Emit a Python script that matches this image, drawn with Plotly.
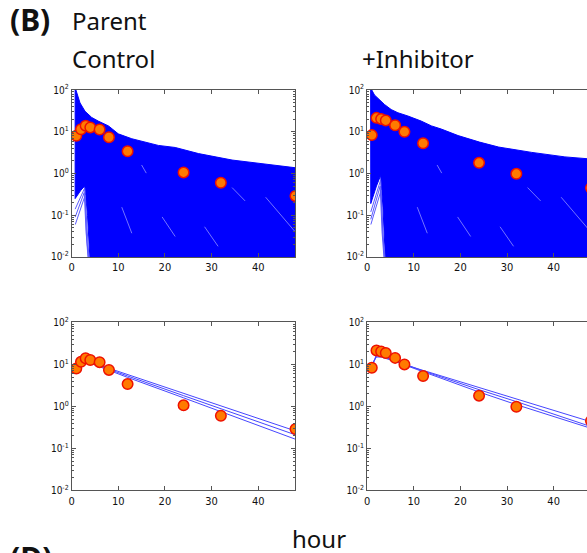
import plotly.graph_objects as go

# Sampling times (hour) and observed parent concentrations
hours = [1, 2, 3, 4, 6, 8, 12, 24, 32, 48]
control_obs = [8.0, 11.5, 14.0, 12.7, 11.3, 7.4, 3.4, 1.06, 0.60, 0.29]
inhib_obs = [8.3, 21.5, 20.3, 18.7, 14.3, 10.0, 5.3, 1.8, 0.98, 0.45]

# Upper edge of the simulated-curve band
control_band_t = [0.75, 0.92, 1.8, 2.86, 4.3, 5.7, 7.9, 9.3, 10.0, 12.9, 18.6, 22.2, 27.2, 34.4, 41.6, 48]
control_band_hi = [300, 100, 49, 31, 22, 18, 13.8, 10.0, 8.9, 6.8, 4.7, 4.2, 3.0, 2.1, 1.67, 1.35]
inhib_band_t = [0.75, 1.0, 1.57, 2.65, 3.72, 5.16, 6.6, 8.75, 11.6, 13.8, 15.9, 19.5, 24.1, 28.2, 35.3, 42.4, 48]
inhib_band_hi = [300, 100, 76, 58, 45, 34, 28.5, 23.8, 18, 13.8, 11.6, 8.1, 5.65, 4.3, 3.2, 2.5, 2.2]

# Lower edge of the band near the absorption phase (gap under the early curves)
control_gap_t = [4.2, 3.9, 3.4, 2.8, 2.0, 0.75]
control_gap_lo = [0.001, 0.01, 0.1, 0.5, 0.4, 0.25]
inhib_gap_t = [4.2, 3.9, 3.4, 2.9, 2.0, 0.78]
inhib_gap_lo = [0.001, 0.01, 0.15, 0.9, 0.5, 0.19]

# Individual low curves crossing the gap
control_low_t = [[0.75, 2.8, 3.3, 3.7], [0.75, 2.7, 3.1, 3.5], [0.78, 2.9, 3.2, 3.6]]
control_low_c = [[0.14, 0.45, 0.05, 0.01], [0.09, 0.35, 0.04, 0.01], [0.06, 0.3, 0.03, 0.01]]
inhib_low_t = [[0.78, 2.9, 3.3, 3.7], [0.78, 2.8, 3.2, 3.6], [0.8, 3.0, 3.4, 3.8]]
inhib_low_c = [[0.12, 0.7, 0.06, 0.01], [0.08, 0.5, 0.04, 0.01], [0.06, 0.4, 0.03, 0.01]]

# Sparse streaks inside the band
streak_t = [[10.75, 12.9], [19.4, 22.2], [28.5, 31.4], [41.6, 48.2], [34.4, 37.2], [15.0, 16.0]]
streak_c = [[0.156, 0.037], [0.091, 0.031], [0.053, 0.018], [0.27, 0.037], [0.46, 0.22], [1.6, 1.02]]

# Fitted profiles
fit_t = [1, 2, 3, 4, 6, 8, 12, 24, 32, 48]
control_fits = [
    [8.6, 11.6, 12.0, 11.4, 9.6, 8.1, 5.7, 2.05, 1.03, 0.26],
    [8.2, 11.0, 11.5, 11.0, 9.2, 7.6, 5.3, 1.8, 0.88, 0.21],
    [7.8, 10.6, 11.2, 10.7, 8.8, 7.2, 4.9, 1.6, 0.76, 0.165],
]
inhib_fits = [
    [9.5, 16.0, 15.5, 14.5, 12.0, 9.8, 7.2, 2.8, 1.5, 0.43],
    [8.0, 17.5, 16.5, 15.0, 12.2, 9.9, 7.0, 2.5, 1.3, 0.33],
    [10.0, 15.0, 15.0, 14.0, 11.8, 9.7, 6.7, 2.2, 1.1, 0.30],
]

xticks = [0, 10, 20, 30, 40]
ytick_vals = [0.01, 0.1, 1, 10, 100]
ytick_text = ["10<sup>-2</sup>", "10<sup>-1</sup>", "10<sup>0</sup>", "10<sup>1</sup>", "10<sup>2</sup>"]
minor_vals = [m * 10 ** e for e in range(-2, 2) for m in range(2, 10)]

BLUE = "#0000ff"
DOT_FILL = "#ff7a00"
DOT_EDGE = "#ee1100"
AXIS = "#555555"
TICKFONT = dict(family="Liberation Sans Narrow, DejaVu Sans Condensed, Arial, sans-serif", size=11, color="#111")
TEXTFONT = dict(family="Noto Sans, Open Sans, sans-serif", size=24, color="#111")

W, H = 587, 553
px_per_h = 225 / 48.0
left_x = [69 / W, 294 / W]
right_x = [366 / W, 1.0]
right_max = (W - 366) / px_per_h
top_y = [1 - 256 / H, 1 - 85 / H]
bot_y = [1 - 495 / H, 1 - 323 / H]

fig = go.Figure()


def band(t_hi, c_hi, t_gap, c_gap, xa, ya):
    xs = list(t_hi) + [48.5, 48.5] + list(t_gap) + [t_hi[0]]
    ys = list(c_hi) + [c_hi[-1], 0.001] + list(c_gap) + [c_hi[0]]
    fig.add_trace(go.Scatter(x=xs, y=ys, mode="lines", fill="toself", fillcolor=BLUE,
                             line=dict(color=BLUE, width=1), hoverinfo="skip",
                             xaxis=xa, yaxis=ya, showlegend=False))


def lines(ts, cs, xa, ya, color, width=1, opacity=1.0):
    for t, c in zip(ts, cs):
        fig.add_trace(go.Scatter(x=t, y=c, mode="lines", line=dict(color=color, width=width),
                                 opacity=opacity, hoverinfo="skip",
                                 xaxis=xa, yaxis=ya, showlegend=False))


def dots(t, c, xa, ya):
    fig.add_trace(go.Scatter(x=t, y=c, mode="markers",
                             marker=dict(size=10.5, color=DOT_FILL, line=dict(color=DOT_EDGE, width=1.5)),
                             xaxis=xa, yaxis=ya, showlegend=False))


# Top row: simulated bands
band(control_band_t, control_band_hi, control_gap_t, control_gap_lo, "x", "y")
lines(control_low_t, control_low_c, "x", "y", "rgb(90,90,255)")
lines(streak_t, streak_c, "x", "y", "white", 1, 0.45)
dots(hours, control_obs, "x", "y")

band(inhib_band_t, inhib_band_hi, inhib_gap_t, inhib_gap_lo, "x2", "y2")
lines(inhib_low_t, inhib_low_c, "x2", "y2", "rgb(90,90,255)")
lines(streak_t, streak_c, "x2", "y2", "white", 1, 0.45)
dots(hours, inhib_obs, "x2", "y2")

# Bottom row: fitted curves
lines([fit_t] * 3, control_fits, "x3", "y3", "rgb(70,70,255)", 1)
dots(hours, control_obs, "x3", "y3")
lines([fit_t] * 3, inhib_fits, "x4", "y4", "rgb(70,70,255)", 1)
dots(hours, inhib_obs, "x4", "y4")


def xaxis(domain, anchor, rmax, mirror):
    return dict(domain=domain, anchor=anchor, range=[0, rmax], tickvals=xticks,
                showline=True, linecolor=AXIS, linewidth=1, mirror=mirror,
                ticks="inside", ticklen=4, tickcolor=AXIS, showgrid=False, zeroline=False,
                tickfont=TICKFONT)


def yaxis(domain, anchor, mirror):
    return dict(domain=domain, anchor=anchor, type="log", range=[-2, 2],
                tickvals=ytick_vals, ticktext=ytick_text,
                minor=dict(tickvals=minor_vals, ticks="inside", ticklen=2, tickcolor=AXIS),
                showline=True, linecolor=AXIS, linewidth=1, mirror=mirror,
                ticks="inside", ticklen=4, tickcolor=AXIS, showgrid=False, zeroline=False,
                tickfont=dict(TICKFONT, size=10))


fig.update_layout(
    width=W, height=H, margin=dict(l=0, r=0, t=0, b=0),
    paper_bgcolor="white", plot_bgcolor="white",
    xaxis=xaxis(left_x, "y", 48, "ticks"),
    yaxis=yaxis(top_y, "x", "ticks"),
    xaxis2=xaxis(right_x, "y2", right_max, "ticks"),
    yaxis2=yaxis(top_y, "x2", False),
    xaxis3=xaxis(left_x, "y3", 48, "ticks"),
    yaxis3=yaxis(bot_y, "x3", "ticks"),
    xaxis4=xaxis(right_x, "y4", right_max, "ticks"),
    yaxis4=yaxis(bot_y, "x4", False),
)

ann = [
    dict(text="<b>(B)</b>", x=5 / W, y=1 - 13 / H, xanchor="left", yanchor="middle",
         font=dict(TEXTFONT, size=30)),
    dict(text="Parent", x=67 / W, y=1 - 14 / H, xanchor="left", yanchor="middle", font=TEXTFONT),
    dict(text="Control", x=67 / W, y=1 - 53 / H, xanchor="left", yanchor="middle", font=TEXTFONT),
    dict(text="+Inhibitor", x=359 / W, y=1 - 53 / H, xanchor="left", yanchor="middle", font=TEXTFONT),
    dict(text="hour", x=318 / W, y=1 - 544 / H, xanchor="center", yanchor="middle", font=TEXTFONT),
    dict(text="<b>(D)</b>", x=5 / W, y=1 - 541 / H, xanchor="left", yanchor="top",
         font=dict(TEXTFONT, size=30)),
]
for a in ann:
    fig.add_annotation(xref="paper", yref="paper", showarrow=False, **a)

fig.write_html("out.html")
